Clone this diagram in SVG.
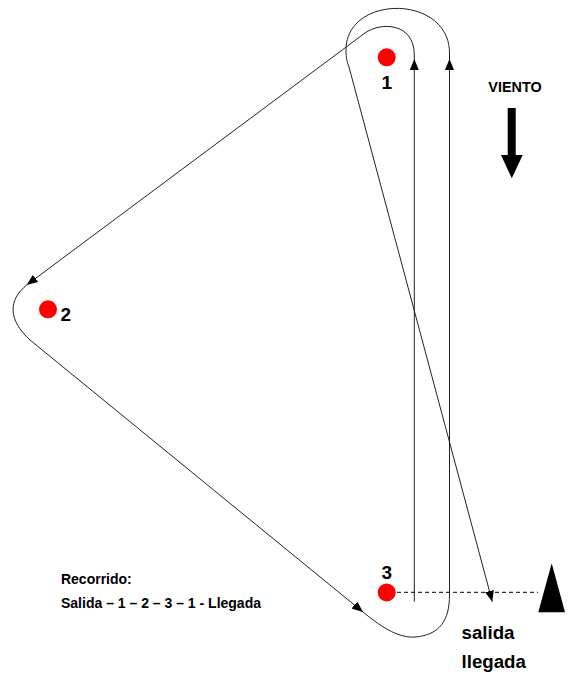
<svg xmlns="http://www.w3.org/2000/svg" width="568" height="674" viewBox="0 0 568 674">
<style>
.t{font-family:"Liberation Sans",Arial,sans-serif;font-weight:bold;fill:#000}
.mark{fill:#ff0000}
.route{fill:none;stroke:#222;stroke-width:1}
.dash{fill:none;stroke:#000;stroke-width:1;stroke-dasharray:4 3}
</style>
<defs>
<marker id="ah" markerUnits="userSpaceOnUse" markerWidth="11" markerHeight="9" refX="11" refY="4.5" orient="auto">
<path d="M0,0 L11,4.5 L0,9 z" fill="#000"/>
</marker>
</defs>
<rect width="568" height="674" fill="#fff"/>
<g id="connectors">
<path class="route" d="M414.3,601.7 V59" marker-end="url(#ah)"/>
<path class="route" d="M414.3,59 V55 C414.3,22 380,22 365,33 L26.7,285" marker-end="url(#ah)"/>
<path class="route" d="M26.7,285 C8,300 8,320 30,340 L363,612" marker-end="url(#ah)"/>
<path class="route" d="M363,612 C385,630 400,638 415,637 C440,635 449.5,620 449.5,595 V59" marker-end="url(#ah)"/>
<path class="route" d="M449.5,59 V53 C449.5,-6 346,-6 346,50 C346,58 347,62 349,67 L492.3,601.7" marker-end="url(#ah)"/>
<path class="dash" d="M397,592.3 H538"/>
</g>
<g id="mark1">
<circle class="mark" cx="386.7" cy="57.3" r="9"/>
<text class="t" x="386.7" y="89.3" font-size="19" text-anchor="middle">1</text>
</g>
<g id="mark2">
<circle class="mark" cx="48" cy="309.3" r="9"/>
<text class="t" x="60.5" y="320.5" font-size="19">2</text>
</g>
<g id="mark3">
<circle class="mark" cx="386.7" cy="592.4" r="9"/>
<text class="t" x="386.7" y="579.3" font-size="19" text-anchor="middle">3</text>
</g>
<g id="startfinish">
<polygon points="551.7,563.3 538.3,612.3 565,612.3" fill="#000"/>
<text class="t" x="461.5" y="639" font-size="18.7">salida</text>
<text class="t" x="461.5" y="668" font-size="18.7">llegada</text>
</g>
<g id="wind">
<text class="t" x="488.3" y="91.6" font-size="14.2" textLength="53.4" lengthAdjust="spacingAndGlyphs">VIENTO</text>
<rect x="507.7" y="108" width="8" height="47.5" fill="#000"/>
<polygon points="501,155 522.7,155 511.8,178.3" fill="#000"/>
</g>
<g id="legend">
<text class="t" x="61" y="584" font-size="14" textLength="70.7" lengthAdjust="spacingAndGlyphs">Recorrido:</text>
<text class="t" x="61" y="607.7" font-size="14" textLength="200" lengthAdjust="spacingAndGlyphs">Salida – 1 – 2 – 3 – 1 - Llegada</text>
</g>
</svg>
